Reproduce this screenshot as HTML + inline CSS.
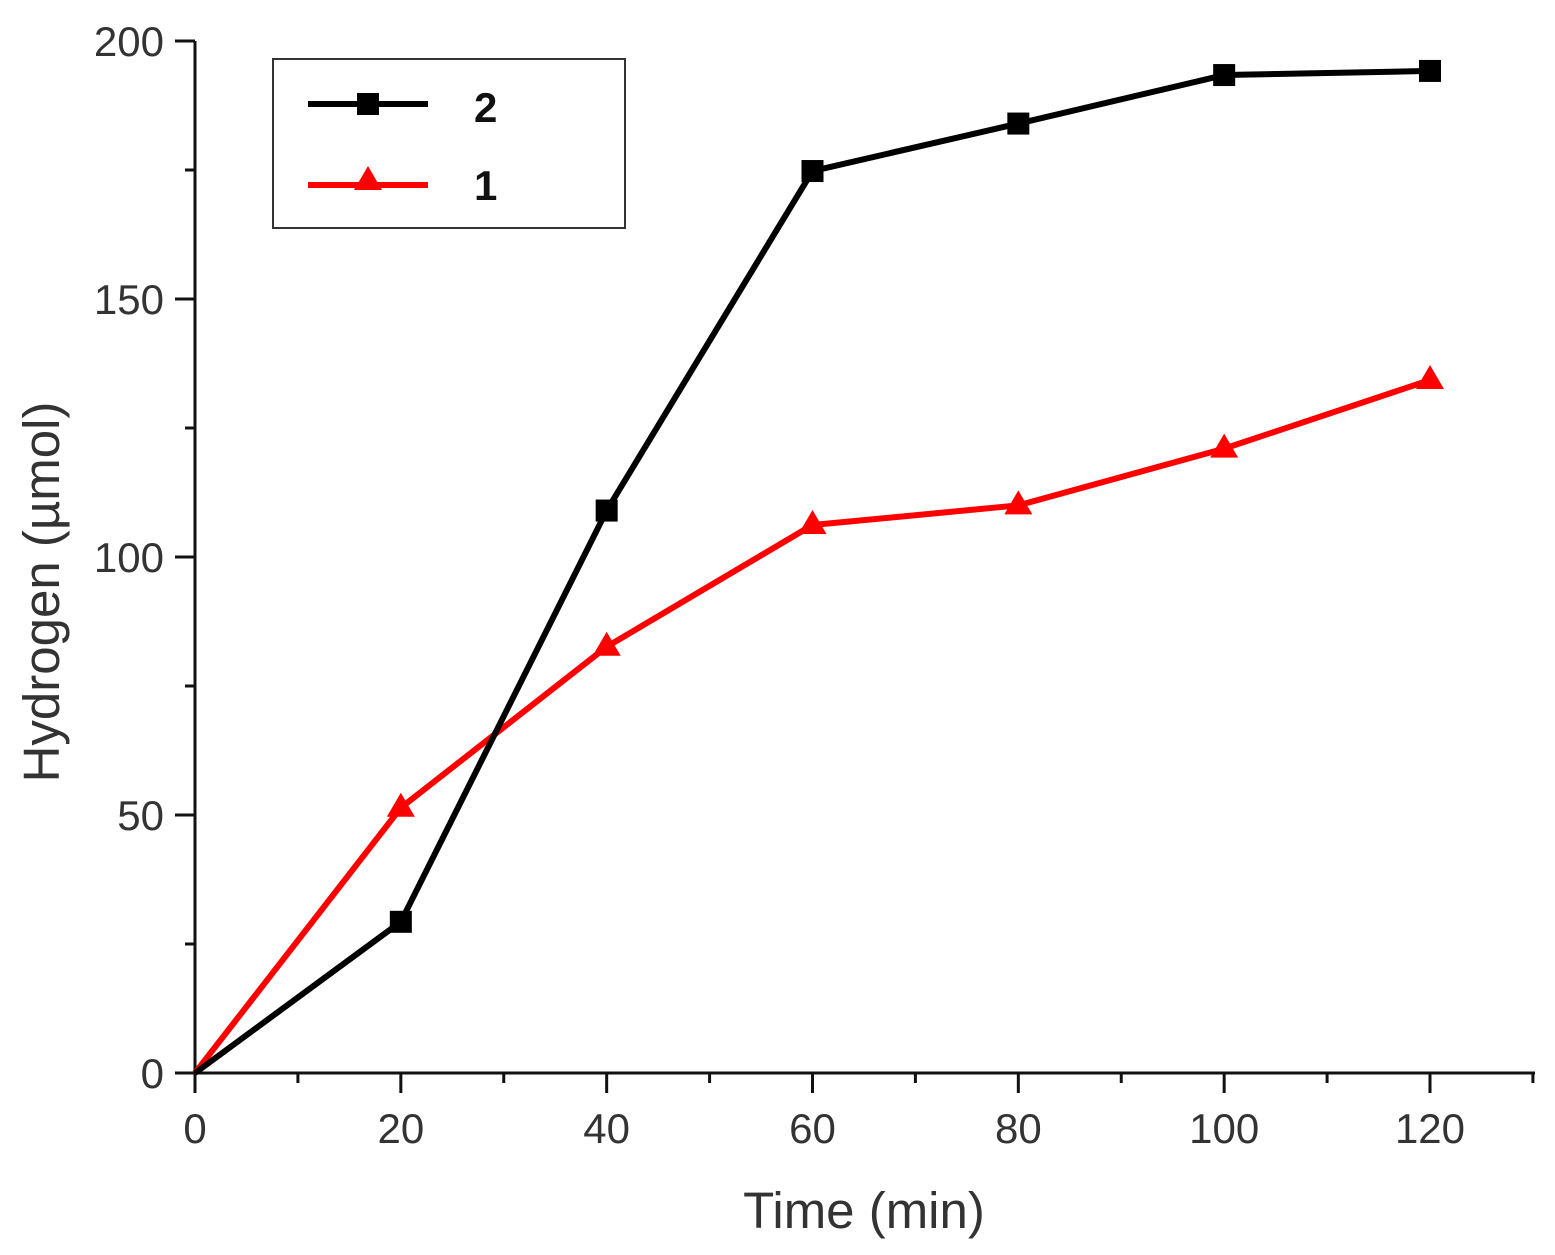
<!DOCTYPE html>
<html><head><meta charset="utf-8"><style>
html,body{margin:0;padding:0;background:#fff;}
svg{display:block;font-family:"Liberation Sans",Arial,sans-serif;}
</style></head><body>
<svg id="chart" width="1555" height="1255" viewBox="0 0 1555 1255"></svg>
<script>
const times = [0, 20, 40, 60, 80, 100, 120];
const series2 = [0, 29.3, 109, 174.8, 184, 193.4, 194.2];
const series1 = [0, 51.4, 82.6, 106.2, 110, 121, 134.3];
const xTickLabels = ["0", "20", "40", "60", "80", "100", "120"];
const yTickLabels = ["0", "50", "100", "150", "200"];

const NS = "http://www.w3.org/2000/svg";
const svg = document.getElementById("chart");
const X0 = 195, XPX = (1430 - 195) / 120;
const Y0 = 1073, YPX = (1073 - 41) / 200;
function sx(v) { return X0 + v * XPX; }
function sy(v) { return Y0 - v * YPX; }
function mk(tag, attrs, parent) {
  const e = document.createElementNS(NS, tag);
  for (const k in attrs) e.setAttribute(k, attrs[k]);
  (parent || svg).appendChild(e);
  return e;
}

let a = mk("line", {x1: X0, y1: Y0, x2: 1535, y2: Y0, stroke: "#111", "stroke-width": 3});


a = mk("line", {x1: X0, y1: Y0 + 20, x2: X0, y2: sy(200), stroke: "#111", "stroke-width": 3});



for (let v = 0; v <= 130; v += 10) {
  const major = v % 20 === 0 && v <= 120;
  const t = mk("line", {x1: sx(v), y1: Y0, x2: sx(v), y2: Y0 + (major ? 20 : 10), stroke: "#111", "stroke-width": 3});
  
  
}
xTickLabels.forEach((lab, i) => {
  const t = mk("text", {x: sx(Number(lab)), y: 1143, "text-anchor": "middle", "font-size": 42, fill: "#333"});
  t.textContent = lab;
  
  
});
for (let v = 0; v <= 200; v += 25) {
  const major = v % 50 === 0;
  const t = mk("line", {x1: X0, y1: sy(v), x2: X0 - (major ? 20 : 10), y2: sy(v), stroke: "#111", "stroke-width": 3});
  
  
}
yTickLabels.forEach(lab => {
  const t = mk("text", {x: 164, y: sy(Number(lab)) + 15, "text-anchor": "end", "font-size": 42, fill: "#333"});
  t.textContent = lab;
  
  
});

let tt = mk("text", {x: 864, y: 1228, "text-anchor": "middle", "font-size": 51, fill: "#333"});
tt.textContent = "Time (min)";


tt = mk("text", {x: 59, y: 592, "text-anchor": "middle", "font-size": 51, fill: "#333", transform: "rotate(-90 59 592)"});
tt.textContent = "Hydrogen (\u00b5mol)";



function square(cx, cy, g) {
  return mk("rect", {x: cx - 11, y: cy - 11, width: 22, height: 22, fill: "#000"}, g);
}
function tri(cx, cy, g) {
  return mk("polygon", {points: `${cx},${cy - 15} ${cx + 14},${cy + 9} ${cx - 14},${cy + 9}`, fill: "#f00"}, g);
}

function drawSeries(vals, color, name, marker) {
  const g = mk("g", {});
  
  
  const pts = vals.map((v, i) => sx(times[i]) + "," + sy(v)).join(" ");
  const l = mk("polyline", {points: pts, fill: "none", stroke: color, "stroke-width": 6, "stroke-linejoin": "round"}, g);
  
  
  vals.forEach((v, i) => {
    if (i === 0) return;
    const m = marker(sx(times[i]), sy(v), g);
    
    
  });
}
drawSeries(series1, "#f00", "series-1", tri);
drawSeries(series2, "#000", "series-2", square);

const lg = mk("g", {});


mk("rect", {x: 273, y: 59, width: 352, height: 169, fill: "#fff", stroke: "#333", "stroke-width": 2}, lg);
mk("line", {x1: 308, y1: 104, x2: 428, y2: 104, stroke: "#000", "stroke-width": 6}, lg);
square(368, 104, lg);
let lt = mk("text", {x: 474, y: 122, "font-size": 42, "font-weight": "bold", fill: "#111"}, lg);
lt.textContent = "2";


mk("line", {x1: 308, y1: 185, x2: 428, y2: 185, stroke: "#f00", "stroke-width": 6}, lg);
tri(368, 181, lg);
lt = mk("text", {x: 474, y: 200, "font-size": 42, "font-weight": "bold", fill: "#111"}, lg);
lt.textContent = "1";


</script>
</body></html>
